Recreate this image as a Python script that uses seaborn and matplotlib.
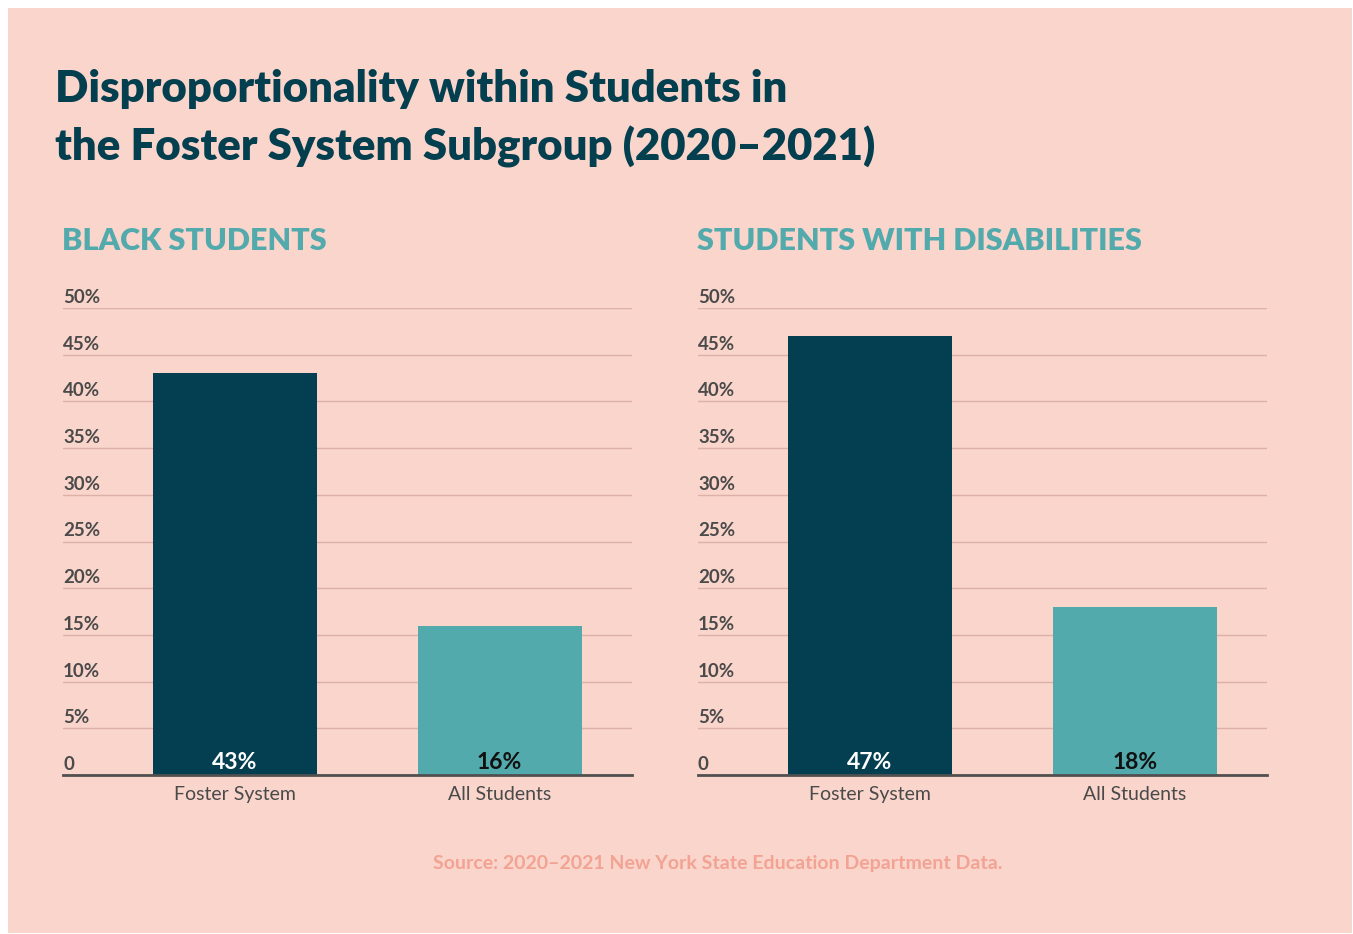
import matplotlib
matplotlib.use("Agg")
import matplotlib.pyplot as plt
import matplotlib.transforms as mtransforms
from matplotlib.patches import Rectangle
import seaborn as sns
import pandas as pd

# ---- data ----
categories = ["Foster System", "All Students"]
black_values = [43, 16]
disability_values = [47, 18]
panel_titles = ["BLACK STUDENTS", "STUDENTS WITH DISABILITIES"]
y_ticks = [0, 5, 10, 15, 20, 25, 30, 35, 40, 45, 50]
y_tick_labels = ["0", "5%", "10%", "15%", "20%", "25%", "30%", "35%", "40%", "45%", "50%"]
title_lines = ["Disproportionality within Students in",
               "the Foster System Subgroup (2020\u20132021)"]
source_text = "Source: 2020\u20132021 New York State Education Department Data."

# ---- style ----
BG = "#F9D5CB"
DARK = "#033F50"
TEAL = "#52AAAD"
TITLE_C = "#043F4F"
TICK_C = "#4A4A4A"
GRID_C = "#DDB1A8"
SRC_C = "#F2A394"

sns.set_theme(style="white")
plt.rcParams['font.family'] = ['Lato', 'DejaVu Sans']

W, H = 1353, 934
fig = plt.figure(figsize=(W / 100, H / 100), dpi=100, facecolor="white")
fig.patches.append(Rectangle((8 / W, 1 - 933 / H), (1352 - 8) / W, (933 - 8) / H,
                             transform=fig.transFigure, facecolor=BG,
                             edgecolor="none", zorder=-10))

for line, base_px in zip(title_lines, [102, 160]):
    fig.text(55 / W, 1 - base_px / H, line, color=TITLE_C, fontsize=31.5,
             fontweight="heavy", ha="left", va="baseline")

panels = [(63, black_values, panel_titles[0]), (698, disability_values, panel_titles[1])]
for left_px, values, ptitle in panels:
    ax = fig.add_axes([left_px / W, 1 - 775 / H, 569 / W, 467 / H])
    ax.set_facecolor("none")
    df = pd.DataFrame({"cat": categories, "val": values})
    sns.barplot(data=df, x="cat", y="val", hue="cat", palette=[DARK, TEAL],
                width=0.62, saturation=1, legend=False, ax=ax, zorder=2,
                edgecolor="none", linewidth=0)
    ax.set_xlim(-0.65, 1.5)
    ax.set_ylim(0, 50)
    ax.set_yticks(y_ticks)
    ax.yaxis.grid(True, color=GRID_C, linewidth=1)
    ax.set_axisbelow(True)
    ax.tick_params(axis="y", length=0, labelleft=False)
    ax.tick_params(axis="x", length=0, pad=8, labelsize=14, labelcolor=TICK_C)
    ax.set_xlabel("")
    ax.set_ylabel("")
    for s in ["top", "right", "left"]:
        ax.spines[s].set_visible(False)
    ax.spines["bottom"].set_color("#505050")
    ax.spines["bottom"].set_linewidth(2)
    ax.spines["bottom"].set_zorder(3)

    trans = mtransforms.blended_transform_factory(ax.transAxes, ax.transData)
    trans = mtransforms.offset_copy(trans, fig=fig, x=0, y=5, units="dots")
    for v, lab in zip(y_ticks, y_tick_labels):
        ax.text(0, v, lab, transform=trans, ha="left", va="baseline",
                fontsize=13.5, fontweight="bold", color=TICK_C)

    vtrans = mtransforms.offset_copy(ax.transData, fig=fig, x=0, y=6, units="dots")
    for i, v in enumerate(values):
        ax.text(i, 0, f"{v}%", transform=vtrans, ha="center", va="baseline",
                fontsize=16.5, fontweight="bold",
                color="white" if i == 0 else "#111111", zorder=4)

    fig.text((left_px - 1) / W, 1 - 250 / H, ptitle, color=TEAL, fontsize=22,
             fontweight="heavy", ha="left", va="baseline")

fig.text(718 / W, 1 - 869 / H, source_text, color=SRC_C, fontsize=14,
         fontweight="bold", ha="center", va="baseline")

fig.savefig("out.png", dpi=100, facecolor="white")
